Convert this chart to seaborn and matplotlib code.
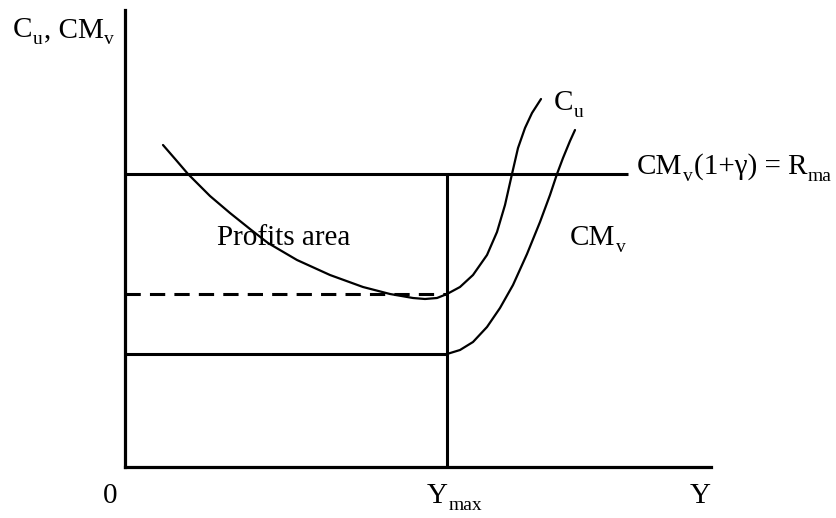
import matplotlib
matplotlib.use("Agg")
import matplotlib.pyplot as plt
from matplotlib.transforms import offset_copy
import seaborn as sns
import pandas as pd

# ---- data (diagram units; origin at the axes corner) ----
cu_x = [37.5, 50.5, 62.5, 74.5, 84.5, 104.5, 124.5, 142.5, 171.5, 204.5,
        237.5, 264.5, 287.5, 299.5, 311.5, 321.5, 334.5, 347.5, 361.5, 371.5,
        379.5, 386.5, 392.5, 399.5, 406.5, 415.5]
cu_y = [321.5, 306.5, 292.5, 280.5, 270.5, 253.5, 237.5, 223.5, 206.5, 191.5,
        179.5, 172.5, 168.5, 167.5, 168.5, 172.5, 179.5, 191.5, 211.5, 234.5,
        261.5, 292.5, 318.5, 338.5, 353.5, 367.5]

cmv_x = [321.5, 334.5, 347.5, 361.5, 374.5, 387.5, 401.5, 414.5, 424.5, 431.5,
         437.5, 444.5, 449.5]
cmv_y = [112.5, 116.5, 124.5, 139.5, 158.5, 181.5, 212.5, 244.5, 271.5, 292.5,
         308.5, 325.5, 336.5]

r_ma_level = 292.5      # CMv(1+gamma) = R_ma
cu_at_ymax = 172.5      # dashed level
cmv_at_ymax = 112.5     # lower solid level
y_max = 321.5           # Y_max position
r_line_end = 502.5
x_axis_end = 585.5
y_axis_top = 456.5

sns.set_theme(style="white")
plt.rcParams["font.family"] = ["Liberation Serif", "DejaVu Serif"]

fig = plt.figure(figsize=(8.37, 5.18), dpi=100)
ax = fig.add_axes([0, 0, 1, 1])
ax.set_xlim(-125.5, 837 - 125.5)
ax.set_ylim(466.5 - 518, 466.5)

# axes as spines positioned at the origin
for s in ["top", "right"]:
    ax.spines[s].set_visible(False)
ax.spines["left"].set_position(("data", 0))
ax.spines["bottom"].set_position(("data", 0))
ax.spines["left"].set_bounds(0, y_axis_top)
ax.spines["bottom"].set_bounds(0, x_axis_end)
for s in ["left", "bottom"]:
    ax.spines[s].set_linewidth(2.3)
    ax.spines[s].set_color("black")
ax.set_xticks([])
ax.set_yticks([])

# curves
cu = pd.DataFrame({"Y": cu_x, "C": cu_y})
cmv = pd.DataFrame({"Y": cmv_x, "C": cmv_y})
sns.lineplot(data=cu, x="Y", y="C", ax=ax, sort=False, estimator=None,
             color="black", linewidth=1.6)
sns.lineplot(data=cmv, x="Y", y="C", ax=ax, sort=False, estimator=None,
             color="black", linewidth=1.6)
ax.set_xlabel("")
ax.set_ylabel("")

# reference lines
ax.hlines(r_ma_level, 0, r_line_end, color="black", linewidth=2.2)
ax.vlines(y_max, 0, r_ma_level, color="black", linewidth=2.2)
ax.hlines(cmv_at_ymax, 0, y_max, color="black", linewidth=2.2)
ax.hlines(cu_at_ymax, 0, y_max, color="black", linewidth=2.2,
          linestyles=(0, (5, 3)))

FS = 21
SUB = 14
DROP = -7  # pixels

renderer = fig.canvas.get_renderer()


def rich(x, y, parts):
    """parts: list of (text, is_subscript)"""
    xoff = 0.0
    for s, sub in parts:
        tr = offset_copy(ax.transData, fig=fig, x=xoff,
                         y=DROP if sub else 0, units="dots")
        t = ax.text(x, y, s, fontsize=SUB if sub else FS, color="black",
                    ha="left", va="baseline", transform=tr)
        bb = t.get_window_extent(renderer)
        xoff += bb.width + (1 if sub else 0.5)


rich(-112.5, 429.5, [("C", False), ("u", True), (", CM", False), ("v", True)])
rich(91.5, 221.5, [("Profits area", False)])
rich(444.5, 221.5, [("CM", False), ("v", True)])
rich(428.5, 356.5, [("C", False), ("u", True)])
rich(511.5, 292.5, [("CM", False), ("v", True), ("(1+γ) = R", False),
                    ("ma", True)])
rich(-22.5, -36.5, [("0", False)])
rich(301.5, -36.5, [("Y", False), ("max", True)])
rich(564.5, -36.5, [("Y", False)])

fig.savefig("out.png", dpi=100)
